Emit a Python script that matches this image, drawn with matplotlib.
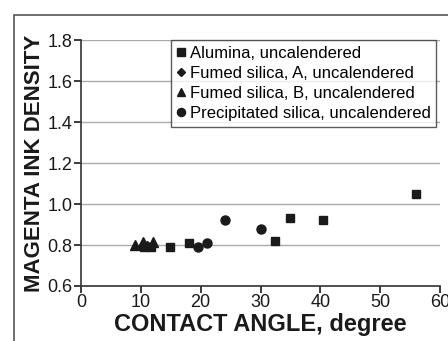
import matplotlib
matplotlib.use("Agg")
import matplotlib.pyplot as plt
from matplotlib.patches import Rectangle

plt.rcParams['font.family'] = ['Liberation Sans', 'DejaVu Sans']

## DATA ##
alumina_x = [10.5, 11.7, 14.9, 18.0, 32.5, 34.9, 40.5, 56.0]
alumina_y = [0.79, 0.79, 0.79, 0.81, 0.82, 0.93, 0.92, 1.05]
fumed_a_x = [11.0]
fumed_a_y = [0.80]
fumed_b_x = [9.0, 10.4, 12.0]
fumed_b_y = [0.80, 0.815, 0.815]
precip_x = [19.6, 21.1, 24.1, 30.1]
precip_y = [0.79, 0.81, 0.92, 0.88]

x_ticks = [0, 10, 20, 30, 40, 50, 60]
y_ticks = [0.6, 0.8, 1.0, 1.2, 1.4, 1.6, 1.8]

ink = '#1a1a1a'

fig = plt.figure(figsize=(4.48, 3.41), dpi=100)
# outer frame of the figure panel
fig.patches.append(Rectangle((14 / 448, -0.1), 1.1, 1.1 - 15 / 341,
                             transform=fig.transFigure, fill=False,
                             edgecolor='#555555', linewidth=1.2))
ax = fig.add_axes([81 / 448, 1 - 286 / 341, 359 / 448, 246 / 341])

ax.plot(alumina_x, alumina_y, 's', color=ink, markersize=6, label='Alumina, uncalendered', clip_on=False)
ax.plot(fumed_a_x, fumed_a_y, 'D', color=ink, markersize=4.5, label='Fumed silica, A, uncalendered', clip_on=False)
ax.plot(fumed_b_x, fumed_b_y, '^', color=ink, markersize=7, label='Fumed silica, B, uncalendered', clip_on=False)
ax.plot(precip_x, precip_y, 'o', color=ink, markersize=6.5, label='Precipitated silica, uncalendered', clip_on=False)

ax.set_xlim(0, 60)
ax.set_ylim(0.6, 1.8)
ax.set_xticks(x_ticks)
ax.set_yticks(y_ticks)
ax.set_yticklabels(['%.1f' % v for v in y_ticks])
ax.tick_params(direction='out', length=5, width=1.2, labelsize=13, colors=ink, pad=1)
ax.yaxis.grid(True, color='#aaaaaa', linewidth=1)
ax.set_axisbelow(True)
for s in ['top', 'right']:
    ax.spines[s].set_visible(False)
for s in ['left', 'bottom']:
    ax.spines[s].set_color('#333333')
    ax.spines[s].set_linewidth(1.2)

ax.set_xlabel('CONTACT ANGLE, degree', fontsize=17, fontweight='bold', color=ink, labelpad=1)
ax.set_ylabel('MAGENTA INK DENSITY', fontsize=16, fontweight='bold', color=ink, labelpad=2)

leg = ax.legend(loc='upper right', bbox_to_anchor=(0.99, 1.0), fontsize=12,
                frameon=True, fancybox=False, borderpad=0.35, labelspacing=0.3,
                handlelength=0.6, handletextpad=0.2, borderaxespad=0,
                markerscale=0.9)
leg.get_frame().set_edgecolor('#333333')
leg.get_frame().set_linewidth(1)

fig.savefig('out.png', dpi=100)
